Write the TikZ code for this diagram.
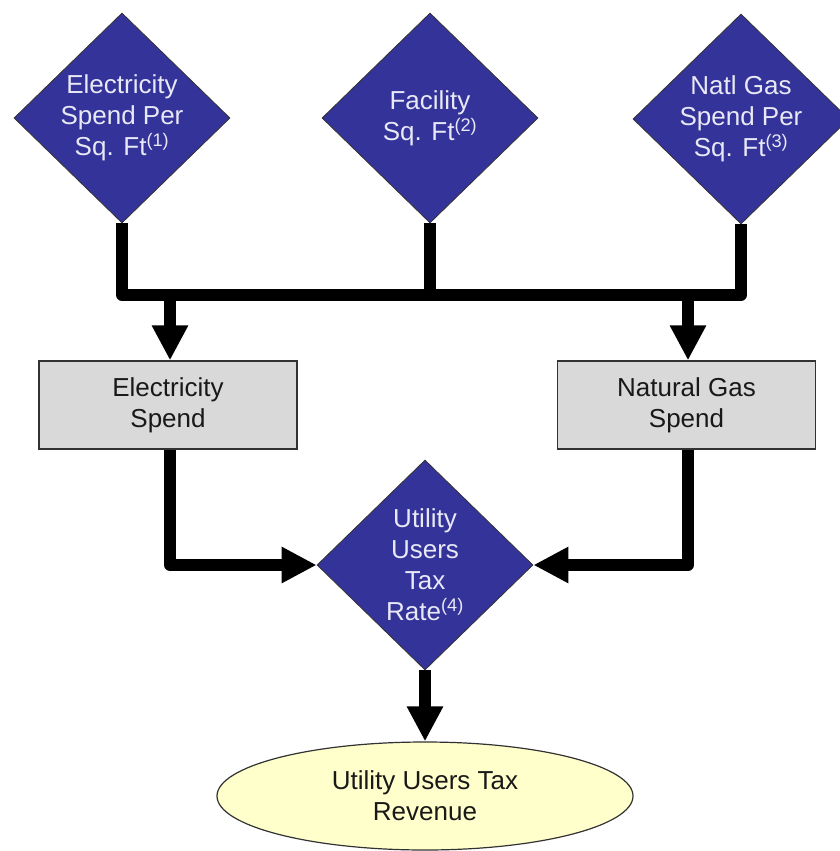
\documentclass[tikz,border=0pt]{standalone}
\usepackage{fontspec}
\setmainfont{Liberation Sans}
\usetikzlibrary{shapes.geometric,arrows.meta}
\definecolor{dblue}{RGB}{51,51,153}
\definecolor{ltext}{RGB}{232,232,246}
\definecolor{boxgray}{RGB}{217,217,217}
\definecolor{ellyellow}{RGB}{255,255,204}
\definecolor{edgegray}{RGB}{50,50,50}
\begin{document}
\begin{tikzpicture}[x=1pt,y=-1pt,
  font=\fontsize{26}{31}\selectfont,
  dia/.style={diamond, draw=black!80, line width=0.8pt, fill=dblue, inner sep=0pt,
    minimum width=216pt, minimum height=210pt},
  diatext/.style={text=ltext, align=center, inner sep=0pt},
  boxnode/.style={rectangle, draw=edgegray, line width=1.2pt, fill=boxgray,
    minimum width=258pt, minimum height=88pt, align=center, text=black!90, inner sep=0pt},
  ellnode/.style={ellipse, draw=edgegray, line width=1.2pt, fill=ellyellow,
    minimum width=416pt, minimum height=108pt, align=center, text=black!90, inner sep=0pt},
  conn/.style={line width=12pt, line join=round, black},
  arr/.style={conn, -{Triangle[length=35pt,width=34pt]}}
]
\useasboundingbox (0,0) rectangle (839,851);

% top diamonds
\node[dia] (d1) at (122,118) {};
\node[diatext] (t1) at (d1.center) {Electricity\\Spend Per\\Sq. Ft\textsuperscript{(1)}};
\node[dia] (d2) at (430,118) {};
\node[diatext] (t2) at (d2.center) {Facility\\Sq. Ft\textsuperscript{(2)}};
\node[dia] (d3) at (741,119) {};
\node[diatext] (t3) at (d3.center) {Natl Gas\\Spend Per\\Sq. Ft\textsuperscript{(3)}};

% boxes
\node[boxnode] (bL) at (168,405) {Electricity\\Spend};
\node[boxnode] (bR) at (686.5,405) {Natural Gas\\Spend};

% utility diamond
\node[dia] (d4) at (425,565) {};
\node[diatext] (t4) at (d4.center) {Utility\\Users\\Tax\\Rate\textsuperscript{(4)}};

% ellipse
\node[ellnode] (e) at (425,796) {Utility Users Tax\\Revenue};

% junction coordinates
\coordinate (jL) at (170,295);
\coordinate (jR) at (688,295);
\coordinate (jM) at (430,295);

% connectors
\draw[arr] (d1.south) |- (jR) -- (jR |- bR.north);
\draw[arr] (d3.south) |- (jL) -- (jL |- bL.north);
\draw[conn] (d2.south) -- (jM);
\draw[arr] (bL.south -| jL) |- (d4.west);
\draw[arr] (bR.south -| jR) |- (d4.east);
\draw[arr] (d4.south) -- (e.north);
\end{tikzpicture}
\end{document}
